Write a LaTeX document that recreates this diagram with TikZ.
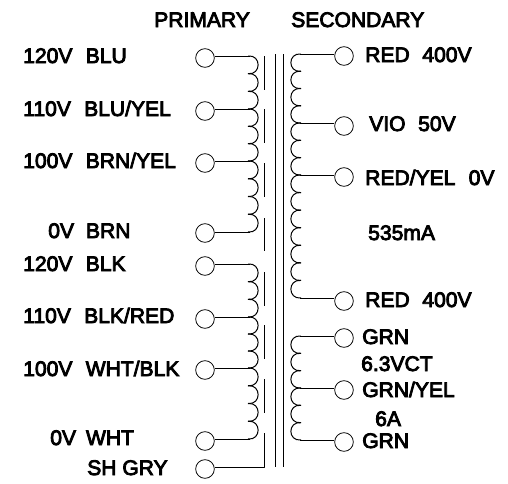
\documentclass[tikz,border=0pt]{standalone}
\usepackage{fontspec}
\setmainfont[FakeBold=4]{Liberation Sans}
\tikzset{x=0.75pt,y=-0.75pt,
  lab/.style={inner sep=0pt,font=\fontsize{15.8pt}{18pt}\selectfont,text=black,anchor=base west},
  term/.style={circle,draw=black,line width=0.6pt,minimum size=14pt,inner sep=0pt},
  wire/.style={draw=black,line width=0.75pt,line join=round}}
\newcommand{\pcoil}[4]{%
  \foreach \i in {1,...,#3}{
    \draw[wire] (#1,{#2+(\i-1)*#4}) .. controls (#1+13.5,{#2+(\i-1)*#4-1.5}) and (#1+13.5,{#2+\i*#4+1.5}) .. (#1,{#2+\i*#4});
  }}
\newcommand{\scoil}[4]{%
  \foreach \i in {1,...,#3}{
    \draw[wire] (#1,{#2+(\i-1)*#4}) .. controls (#1-13.5,{#2+(\i-1)*#4-1.5}) and (#1-13.5,{#2+\i*#4+1.5}) .. (#1,{#2+\i*#4});
  }}
\begin{document}
\begin{tikzpicture}
\useasboundingbox (0,0) rectangle (508,483);
\fill[white] (0,0) rectangle (508,483);
\foreach \n/\y in {pa/58,pb/111,pc/163,pd/233,pe/266,pf/319,pg/370,ph/441,pi/469}
  \node[term] (\n) at (205,\y) {};
\foreach \n/\y in {sa/56,sb/126,sc/177,sd/301,se/338,sf/390,sg/442}
  \node[term] (\n) at (344,\y) {};
\foreach \n/\y in {ta/56,tb/109,tc/161,td/232,te/264,tf/317,tg/368,th/439}
  \coordinate (\n) at (250,\y);
\foreach \n/\y in {ua/54,ub/123,uc/175,ud/298,ue/336,uf/388,ug/440}
  \coordinate (\n) at (300,\y);
\coordinate (shA) at (264,467);
\coordinate (shB) at (264,433);
\draw[wire] (pa.east |- ta) -- (ta);
\draw[wire] (pb.east |- tb) -- (tb);
\draw[wire] (pc.east |- tc) -- (tc);
\draw[wire] (pd.east |- td) -- (td);
\draw[wire] (pe.east |- te) -- (te);
\draw[wire] (pf.east |- tf) -- (tf);
\draw[wire] (pg.east |- tg) -- (tg);
\draw[wire] (ph.east |- th) -- (th);
\draw[wire] (pi.east |- shA) -- (shA) -- (shB);
\draw[wire] (sa.west |- ua) -- (ua);
\draw[wire] (sb.west |- ub) -- (ub);
\draw[wire] (sc.west |- uc) -- (uc);
\draw[wire] (sd.west |- ud) -- (ud);
\draw[wire] (se.west |- ue) -- (ue);
\draw[wire] (sf.west |- uf) -- (uf);
\draw[wire] (sg.west |- ug) -- (ug);
\pcoil{248}{56}{3}{17.67}
\pcoil{248}{109}{3}{17.33}
\pcoil{248}{161}{4}{17.75}
\pcoil{248}{264}{3}{17.67}
\pcoil{248}{317}{3}{17}
\pcoil{248}{368}{4}{17.75}
\scoil{301}{54}{4}{17.25}
\scoil{301}{123}{3}{17.33}
\scoil{301}{175}{7}{17.57}
\scoil{301}{336}{3}{17.33}
\scoil{301}{388}{3}{17.33}
\foreach \a/\b in {56/90,109/143,163/197,218/251,272/306,325/359,379/413}
  \draw[wire] (264,\a) -- (264,\b);
\draw[wire] (275,54) -- (275,467);
\draw[wire] (283,54) -- (283,467);
\node[lab] at (154,27) {PRIMARY};
\node[lab] at (291,27) {SECONDARY};
\node[lab] at (23,63) {120V\hspace{10pt}BLU};
\node[lab] at (23,116) {110V\hspace{10pt}BLU/YEL};
\node[lab] at (23,168) {100V\hspace{10pt}BRN/YEL};
\node[lab] at (48,238) {0V\hspace{9pt}BRN};
\node[lab] at (23,271) {120V\hspace{10pt}BLK};
\node[lab] at (23,323) {110V\hspace{10pt}BLK/RED};
\node[lab] at (23,376) {100V\hspace{10pt}WHT/BLK};
\node[lab] at (50,445) {0V\hspace{7.5pt}WHT};
\node[lab] at (87,475) {SH GRY};
\node[lab] at (365,62) {RED\hspace{9.5pt}400V};
\node[lab] at (369,131) {VIO\hspace{9.5pt}50V};
\node[lab] at (365,185) {RED/YEL\hspace{10pt}0V};
\node[lab] at (368,240) {535mA};
\node[lab] at (365,307) {RED\hspace{9.5pt}400V};
\node[lab] at (362,344) {GRN};
\node[lab] at (361,371) {6.3VCT};
\node[lab] at (362,397) {GRN/YEL};
\node[lab] at (375,426) {6A};
\node[lab] at (362,448) {GRN};
\end{tikzpicture}
\end{document}
